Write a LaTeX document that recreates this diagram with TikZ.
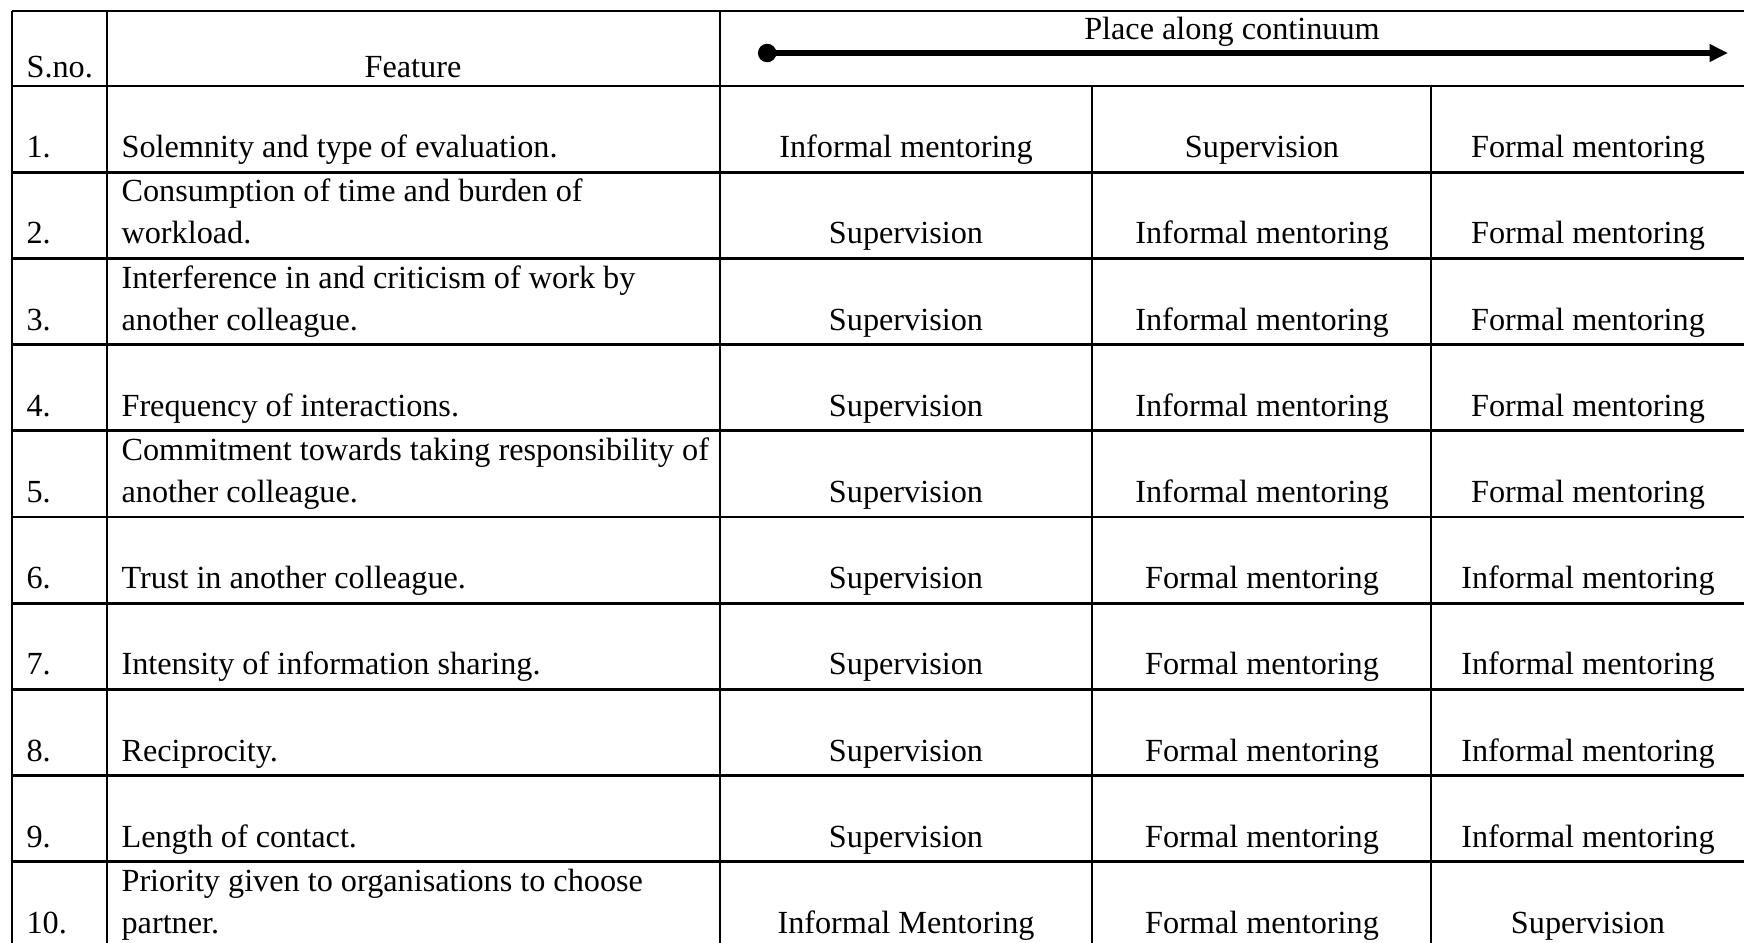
\documentclass[tikz,border=0pt]{standalone}
\usepackage{fontspec}
\setmainfont{Liberation Serif}
\usetikzlibrary{arrows.meta}

\begin{document}
\begin{tikzpicture}[x=0.012cm,y=-0.012cm,
   every node/.style={inner sep=0pt,font=\fontsize{11}{14.3}\selectfont},
   rule/.style={line width=1pt},
   lft/.style={anchor=base west,align=left},
   mid/.style={anchor=base}]
   \clip (0,0) rectangle (1744,943);

   % grid of the table
   \draw[rule] (12,11) -- (1750,11);
   \draw[rule] (12,86) -- (1750,86);
   \foreach \r in {1,...,9}
      \draw[rule] (12,86+86.2*\r) -- (1750,86+86.2*\r);
   \draw[rule] (12,11) -- (12,950);
   \draw[rule] (107,11) -- (107,950);
   \draw[rule] (720,11) -- (720,950);
   \draw[rule] (1092,86) -- (1092,950);
   \draw[rule] (1431,86) -- (1431,950);

   % header
   \node[lft] (sno) at (26,77) {S.no.};
   \node[mid] (feat) at (413,77) {Feature};
   \node[mid] (place) at (1232,40) {Place along continuum};
   \coordinate (cstart) at (758,53);
   \coordinate (cend) at (1728,53);
   \draw[line width=2pt,{Circle[length=0.22cm]}-{Triangle[length=0.22cm,width=0.2cm]}] (cstart) -- (cend);

   % rows
   \node[lft] (s1) at (26,157) {1.};
   \node[lft] (f1) at (121,157) {Solemnity and type of evaluation.};
   \node[mid] (c1a) at (906,157) {Informal mentoring};
   \node[mid] (c1b) at (1262,157) {Supervision};
   \node[mid] (c1c) at (1588,157) {Formal mentoring};

   \node[lft] (s2) at (26,243) {2.};
   \node[lft] (f2) at (121,243) {Consumption of time and burden of\\workload.};
   \node[mid] (c2a) at (906,243) {Supervision};
   \node[mid] (c2b) at (1262,243) {Informal mentoring};
   \node[mid] (c2c) at (1588,243) {Formal mentoring};

   \node[lft] (s3) at (26,330) {3.};
   \node[lft] (f3) at (121,330) {Interference in and criticism of work by\\another colleague.};
   \node[mid] (c3a) at (906,330) {Supervision};
   \node[mid] (c3b) at (1262,330) {Informal mentoring};
   \node[mid] (c3c) at (1588,330) {Formal mentoring};

   \node[lft] (s4) at (26,416) {4.};
   \node[lft] (f4) at (121,416) {Frequency of interactions.};
   \node[mid] (c4a) at (906,416) {Supervision};
   \node[mid] (c4b) at (1262,416) {Informal mentoring};
   \node[mid] (c4c) at (1588,416) {Formal mentoring};

   \node[lft] (s5) at (26,502) {5.};
   \node[lft] (f5) at (121,502) {Commitment towards taking responsibility of\\another colleague.};
   \node[mid] (c5a) at (906,502) {Supervision};
   \node[mid] (c5b) at (1262,502) {Informal mentoring};
   \node[mid] (c5c) at (1588,502) {Formal mentoring};

   \node[lft] (s6) at (26,588) {6.};
   \node[lft] (f6) at (121,588) {Trust in another colleague.};
   \node[mid] (c6a) at (906,588) {Supervision};
   \node[mid] (c6b) at (1262,588) {Formal mentoring};
   \node[mid] (c6c) at (1588,588) {Informal mentoring};

   \node[lft] (s7) at (26,674) {7.};
   \node[lft] (f7) at (121,674) {Intensity of information sharing.};
   \node[mid] (c7a) at (906,674) {Supervision};
   \node[mid] (c7b) at (1262,674) {Formal mentoring};
   \node[mid] (c7c) at (1588,674) {Informal mentoring};

   \node[lft] (s8) at (26,761) {8.};
   \node[lft] (f8) at (121,761) {Reciprocity.};
   \node[mid] (c8a) at (906,761) {Supervision};
   \node[mid] (c8b) at (1262,761) {Formal mentoring};
   \node[mid] (c8c) at (1588,761) {Informal mentoring};

   \node[lft] (s9) at (26,847) {9.};
   \node[lft] (f9) at (121,847) {Length of contact.};
   \node[mid] (c9a) at (906,847) {Supervision};
   \node[mid] (c9b) at (1262,847) {Formal mentoring};
   \node[mid] (c9c) at (1588,847) {Informal mentoring};

   \node[lft] (s10) at (26,933) {10.};
   \node[lft] (f10) at (121,933) {Priority given to organisations to choose\\partner.};
   \node[mid] (c10a) at (906,933) {Informal Mentoring};
   \node[mid] (c10b) at (1262,933) {Formal mentoring};
   \node[mid] (c10c) at (1588,933) {Supervision};
\end{tikzpicture}
\end{document}
